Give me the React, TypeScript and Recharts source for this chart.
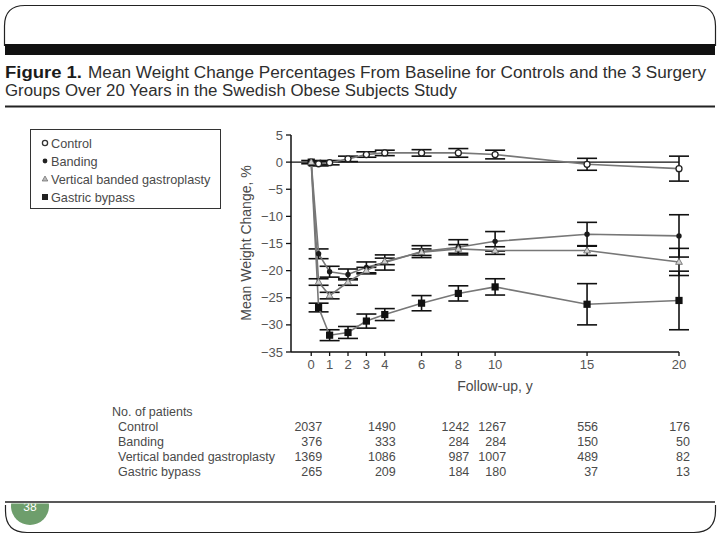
import React from 'react';
import { ComposedChart, Line, XAxis, YAxis, ErrorBar, ReferenceLine } from 'recharts';

// follow-up years and series values (% weight change)
const years = [0, 0.4, 1, 2, 3, 4, 6, 8, 10, 15, 20];
const control = [0, -0.3, -0.1, 0.6, 1.4, 1.7, 1.7, 1.7, 1.4, -0.4, -1.2];
const controlErr = [0.3, 0.4, 0.4, 0.5, 0.5, 0.5, 0.6, 0.8, 0.8, 1.1, 2.3];
const banding = [0, -16.9, -20.2, -20.7, -19.4, -18.5, -16.5, -15.7, -14.6, -13.3, -13.6];
const bandingErr = [0, 0.9, 1.0, 1.0, 1.0, 1.4, 1.1, 1.4, 1.8, 2.2, 3.9];
const vbg = [0, -22.1, -24.6, -22.1, -20.0, -18.3, -16.6, -16.0, -16.3, -16.3, -18.4];
const vbgErr = [0, 0.6, 0.6, 0.6, 0.6, 0.6, 0.6, 0.8, 0.7, 0.9, 2.5];
const bypass = [0, -26.8, -31.9, -31.4, -29.3, -28.1, -26.0, -24.2, -23.0, -26.2, -25.5];
const bypassErr = [0, 0.8, 1.0, 1.1, 1.3, 1.1, 1.4, 1.4, 1.5, 3.8, 5.4];

const xTicks = [0, 1, 2, 3, 4, 6, 8, 10, 15, 20];
const yTicks = [5, 0, -5, -10, -15, -20, -25, -30, -35];

// number-at-risk table
const tableYears = [0, 4, 8, 10, 15, 20];
const tableRows = ['Control', 'Banding', 'Vertical banded gastroplasty', 'Gastric bypass'];
const nControl = [2037, 1490, 1242, 1267, 556, 176];
const nBanding = [376, 333, 284, 284, 150, 50];
const nVbg = [1369, 1086, 987, 1007, 489, 82];
const nBypass = [265, 209, 184, 180, 37, 13];

const legendNames = ['Control', 'Banding', 'Vertical banded gastroplasty', 'Gastric bypass'];

const data = years.map((x, i) => ({
  x,
  control: control[i], controlErr: controlErr[i],
  banding: banding[i], bandingErr: bandingErr[i],
  vbg: vbg[i], vbgErr: vbgErr[i],
  bypass: bypass[i], bypassErr: bypassErr[i],
}));

const PLOT_LEFT = 291;
const PLOT_RIGHT = 679;
const PLOT_TOP = 135;
const PLOT_BOTTOM = 352;
const X_MIN = -1.1;
const X_MAX = 20;
const xPos = (v: number) => PLOT_LEFT + ((v - X_MIN) / (X_MAX - X_MIN)) * (PLOT_RIGHT - PLOT_LEFT);

const FONT = '"Liberation Sans", Arial, sans-serif';
const TEXT = '#4a4a4a';
const LINE = '#777';

const minus = (v: number) => (v < 0 ? `\u2212${Math.abs(v)}` : `${v}`);

const openCircle = (p: any) =>
  p.cx == null ? null : <circle key={`c${p.index}`} cx={p.cx} cy={p.cy} r={3} fill="#fff" stroke="#222" strokeWidth={1.3} />;
const filledDot = (p: any) =>
  p.cx == null ? null : <circle key={`b${p.index}`} cx={p.cx} cy={p.cy} r={2.7} fill="#1a1a1a" />;
const triangle = (p: any) =>
  p.cx == null ? null : (
    <path key={`v${p.index}`} d={`M${p.cx},${p.cy - 3.6} L${p.cx + 3.4},${p.cy + 2.4} L${p.cx - 3.4},${p.cy + 2.4} Z`}
      fill="#d0d0d0" stroke="#666" strokeWidth={0.8} />
  );
const square = (p: any) =>
  p.cx == null ? null : <rect key={`s${p.index}`} x={p.cx - 3.6} y={p.cy - 3.6} width={7.2} height={7.2} fill="#111" />;

const LegendMark = ({ i, x, y }: { i: number; x: number; y: number }) => {
  if (i === 0) return <circle cx={x} cy={y} r={2.6} fill="#fff" stroke="#333" strokeWidth={1.3} />;
  if (i === 1) return <circle cx={x} cy={y} r={2.4} fill="#222" />;
  if (i === 2) return <path d={`M${x},${y - 3} L${x + 2.8},${y + 2} L${x - 2.8},${y + 2} Z`} fill="#bbb" stroke="#666" strokeWidth={0.7} />;
  return <rect x={x - 3} y={y - 3} width={6} height={6} fill="#222" />;
};

export default function App() {
  const counts = [nControl, nBanding, nVbg, nBypass];
  return (
    <div style={{ position: 'absolute', left: 0, top: 0, width: 720, height: 540, background: '#fff' }}>
      <svg width={720} height={540} style={{ position: 'absolute', left: 0, top: 0 }}>
        <defs>
          <clipPath id="badgeClip">
            <rect x={0} y={503.5} width={80} height={40} />
          </clipPath>
        </defs>
        {/* slide frame top */}
        <path d="M4.5,46 L4.5,26 Q4.5,5.5 25,5.5 L695,5.5 Q715.5,5.5 715.5,26 L715.5,46" fill="none" stroke="#222" strokeWidth={1.2} />
        <rect x={5} y={44} width={710} height={11} fill="#111" />
        <text x={5} y={77.5} textLength={77} lengthAdjust="spacingAndGlyphs" fontFamily={FONT} fontSize={16} fontWeight={700} fill="#1a1a1a">
          Figure 1.
        </text>
        <text x={88} y={77.5} textLength={618} lengthAdjust="spacingAndGlyphs" fontFamily={FONT} fontSize={16} fill="#2e2e2e">
          Mean Weight Change Percentages From Baseline for Controls and the 3 Surgery
        </text>
        <text x={5} y={95.5} textLength={452} lengthAdjust="spacingAndGlyphs" fontFamily={FONT} fontSize={16} fill="#2e2e2e">
          Groups Over 20 Years in the Swedish Obese Subjects Study
        </text>
        <line x1={5} y1={106.5} x2={715} y2={106.5} stroke="#222" strokeWidth={2} />

        {/* legend */}
        <rect x={30.5} y={129.5} width={190} height={79} fill="#fff" stroke="#333" strokeWidth={1} />
        {legendNames.map((n, i) => (
          <g key={n}>
            <LegendMark i={i} x={45} y={143 + i * 18} />
            <text x={51} y={147.5 + i * 18} fontFamily={FONT} fontSize={12.7} fill={TEXT}>{n}</text>
          </g>
        ))}

        {/* axis titles */}
        <text transform="translate(251,243) rotate(-90)" textAnchor="middle" fontFamily={FONT} fontSize={14} fill={TEXT}>
          Mean Weight Change, %
        </text>
        <text x={495} y={391} textAnchor="middle" fontFamily={FONT} fontSize={14} fill={TEXT}>Follow-up, y</text>

        {/* number at risk */}
        <text x={112} y={416} fontFamily={FONT} fontSize={12.5} fill={TEXT}>No. of patients</text>
        {tableRows.map((r, ri) => (
          <g key={r}>
            <text x={118} y={431 + ri * 15} fontFamily={FONT} fontSize={12.5} fill={TEXT}>{r}</text>
            {counts[ri].map((v, ci) => (
              <text key={ci} x={xPos(tableYears[ci]) + 11} y={431 + ri * 15} textAnchor="end" fontFamily={FONT} fontSize={12.5} fill={TEXT}>{v}</text>
            ))}
          </g>
        ))}

        {/* slide frame bottom */}
        <line x1={5} y1={502} x2={715} y2={502} stroke="#222" strokeWidth={1.5} />
        <path d="M5.5,505 L5.5,511 Q5.5,532.5 27,532.5 L694,532.5 Q715.5,532.5 715.5,511 L715.5,505" fill="none" stroke="#222" strokeWidth={1.2} />
        <g clipPath="url(#badgeClip)">
          <circle cx={30} cy={506} r={19} fill="#6e9e6c" />
          <text x={30} y={511} textAnchor="middle" fontFamily={FONT} fontSize={12} fill="#fff">38</text>
        </g>
      </svg>

      <div style={{ position: 'absolute', left: 0, top: 0 }}>
        <ComposedChart
          width={720}
          height={540}
          data={data}
          margin={{ top: PLOT_TOP, right: 720 - PLOT_RIGHT, bottom: 540 - PLOT_BOTTOM - 30, left: PLOT_LEFT - 50 }}
        >
          <XAxis
            type="number"
            dataKey="x"
            domain={[X_MIN, X_MAX]}
            ticks={xTicks}
            interval={0}
            height={30}
            tickSize={4}
            tickMargin={4}
            axisLine={{ stroke: '#111', strokeWidth: 1.5 }}
            tickLine={{ stroke: '#111', strokeWidth: 1.3 }}
            tick={{ fill: '#555', fontSize: 13, fontFamily: FONT }}
          />
          <YAxis
            type="number"
            domain={[-35, 5]}
            ticks={yTicks}
            interval={0}
            width={50}
            tickSize={5}
            tickMargin={3}
            tickFormatter={minus}
            axisLine={{ stroke: '#111', strokeWidth: 1.5 }}
            tickLine={{ stroke: '#111', strokeWidth: 1.3 }}
            tick={{ fill: '#555', fontSize: 13, fontFamily: FONT }}
          />
          <ReferenceLine y={0} stroke="#111" strokeWidth={1.2} />
          <Line dataKey="control" name="Control" stroke={LINE} strokeWidth={1.6} dot={openCircle} isAnimationActive={false}>
            <ErrorBar dataKey="controlErr" direction="y" width={10} stroke="#111" strokeWidth={1.6} isAnimationActive={false} />
          </Line>
          <Line dataKey="banding" name="Banding" stroke={LINE} strokeWidth={1.6} dot={filledDot} isAnimationActive={false}>
            <ErrorBar dataKey="bandingErr" direction="y" width={10} stroke="#111" strokeWidth={1.6} isAnimationActive={false} />
          </Line>
          <Line dataKey="bypass" name="Gastric bypass" stroke={LINE} strokeWidth={1.6} dot={square} isAnimationActive={false}>
            <ErrorBar dataKey="bypassErr" direction="y" width={10} stroke="#111" strokeWidth={1.6} isAnimationActive={false} />
          </Line>
          <Line dataKey="vbg" name="Vertical banded gastroplasty" stroke={LINE} strokeWidth={1.6} dot={triangle} isAnimationActive={false}>
            <ErrorBar dataKey="vbgErr" direction="y" width={10} stroke="#111" strokeWidth={1.6} isAnimationActive={false} />
          </Line>
        </ComposedChart>
      </div>
    </div>
  );
}
